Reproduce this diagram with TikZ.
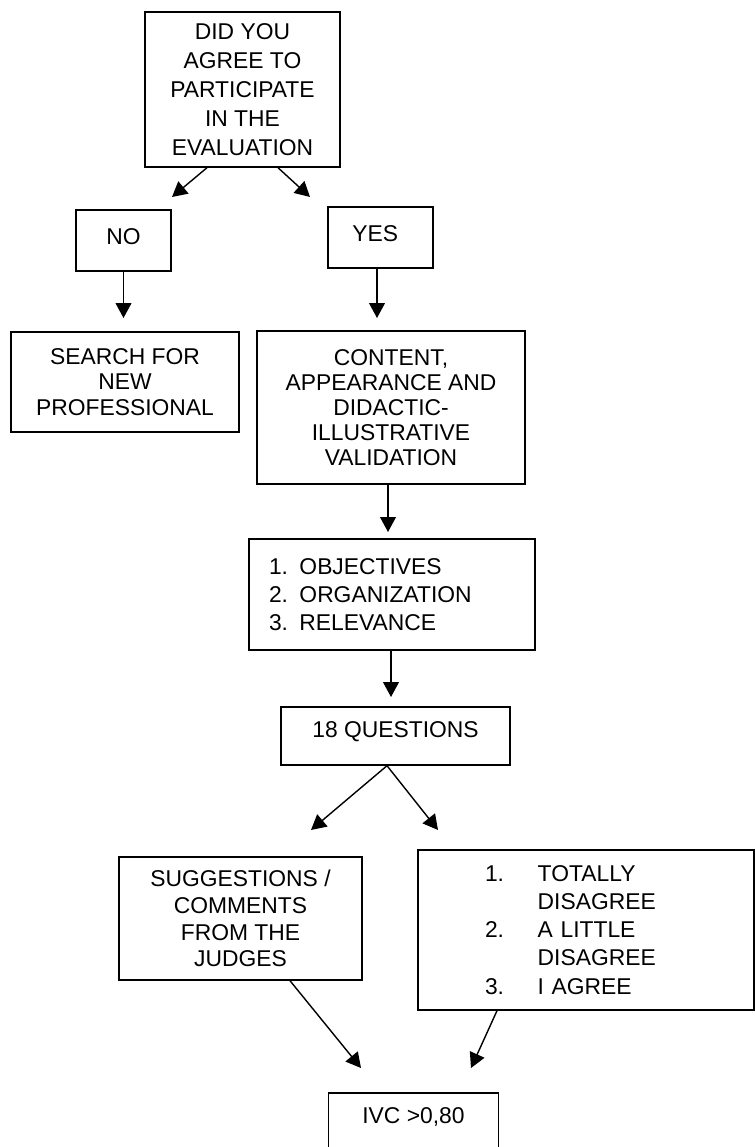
\documentclass[tikz,border=0pt]{standalone}
\usepackage{fontspec}
\setmainfont{Liberation Sans}
\usetikzlibrary{arrows.meta}
\newcommand{\pxu}{0.2mm}

\begin{document}
\begin{tikzpicture}[x=0.2mm,y=-0.2mm,>={Triangle[length=8.5pt,width=9pt]},thick,
  box/.style={draw,rectangle,align=center,inner sep=0pt,font=\fontsize{13}{14.3}\selectfont},
  tall box/.style={box,font=\fontsize{13}{16.5}\selectfont},
  list box/.style={box,align=left,font=\fontsize{13}{16}\selectfont},
  up text/.style={text height=9.5pt,text depth=#1}]
  \useasboundingbox (0,0) rectangle (755,1147);
  \clip (0,0) rectangle (755,1147);

  \node[tall box,minimum width=195*\pxu,minimum height=155*\pxu] (q) at (242.5,89.5)
    {DID YOU\\AGREE TO\\PARTICIPATE\\IN THE\\EVALUATION};
  \node[box,up text=5.4pt,minimum width=95*\pxu,minimum height=61*\pxu] (no) at (123.5,240.5) {NO};
  \node[box,up text=5.4pt,minimum width=105*\pxu,minimum height=61*\pxu] (yes) at (380.5,237.5)
    {YES\hspace*{6pt}};
  \node[box,minimum width=228*\pxu,minimum height=100*\pxu] (search) at (125,382)
    {SEARCH FOR\\NEW\\PROFESSIONAL};
  \node[box,minimum width=268*\pxu,minimum height=153*\pxu] (content) at (391,407.5)
    {CONTENT,\\APPEARANCE AND\\DIDACTIC-\\ILLUSTRATIVE\\VALIDATION};
  \node[list box,text width=246*\pxu,minimum width=286*\pxu,minimum height=111*\pxu] (crit) at (392,594.5)
    {1. OBJECTIVES\\2. ORGANIZATION\\3. RELEVANCE};
  \node[box,up text=8.2pt,minimum width=229*\pxu,minimum height=58*\pxu] (quest) at (395.5,736) {18 QUESTIONS};
  \node[box,font=\fontsize{13}{15.2}\selectfont,minimum width=243*\pxu,minimum height=123*\pxu] (judges) at (240.5,918.5)
    {SUGGESTIONS /\\COMMENTS\\FROM THE\\JUDGES};
  \node[list box,text width=202*\pxu,minimum width=336*\pxu,minimum height=160*\pxu] (scale) at (586,930)
    {\makebox[30pt][l]{1.}TOTALLY\\\hspace*{30pt}DISAGREE\\
     \makebox[30pt][l]{2.}A LITTLE\\\hspace*{30pt}DISAGREE\\
     \makebox[30pt][l]{3.}I AGREE};
  \node[box,up text=17.2pt,minimum width=170*\pxu,minimum height=74*\pxu] (ivc) at (413.5,1130) {IVC >0,80};

  % free arrow ends
  \coordinate (qL) at (172,197);
  \coordinate (qR) at (310,197);
  \coordinate (noT) at (123.5,318);
  \coordinate (yesT) at (377,318);
  \coordinate (contT) at (388,532);
  \coordinate (critT) at (391,697);
  \coordinate (questL) at (311,830);
  \coordinate (questR) at (438,830);
  \coordinate (judgesT) at (361,1068);
  \coordinate (scaleT) at (471,1068);

  \path[->]
    ([xshift=-35.5*\pxu]q.south) edge (qL)
    ([xshift=35.5*\pxu]q.south) edge (qR)
    (no.south) edge (noT)
    ([xshift=-3.5*\pxu]yes.south) edge (yesT)
    ([xshift=-3*\pxu]content.south) edge (contT)
    ([xshift=-1*\pxu]crit.south) edge (critT)
    ([xshift=-8.5*\pxu]quest.south) edge (questL)
    ([xshift=-8.5*\pxu]quest.south) edge (questR)
    ([xshift=49.5*\pxu]judges.south) edge (judgesT)
    ([xshift=-89*\pxu]scale.south) edge (scaleT);
\end{tikzpicture}
\end{document}
